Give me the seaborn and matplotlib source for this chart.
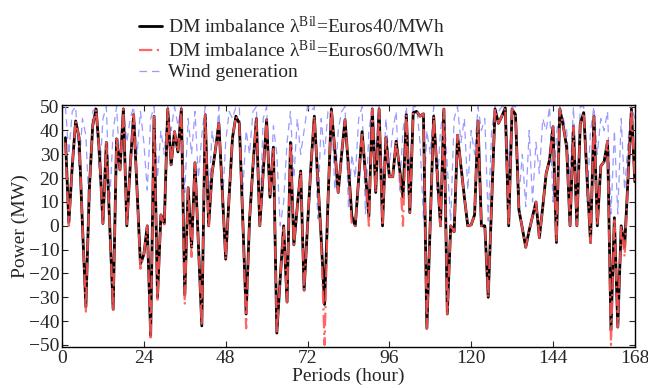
import numpy as np
import pandas as pd
import matplotlib
matplotlib.use("Agg")
import matplotlib.pyplot as plt
import seaborn as sns

hours = list(range(1, 169))

dm40 = [37, 1.3, 25, 44, 37, 0, -34, 15, 42, 49,
        30, 1, 35, 0, -35, 36.5, 23.5, 49, 0, 25,
        46.6, 15, -16, -12, 0, -46, 46, -30, 4.6, 1,
        49, 25.6, 39.5, 31, 49, -29, 16, -9, 26.5, -8,
        -42, 46.6, 0, 22, 32, 43, 15, -14, 12, 37,
        46, 43, 3, -37, 2.5, 25, 45, 0, 22, 44.5,
        12, 33, -45, -22, 0, -32, 35, -8, 8, 23,
        -27, 0, 25, 46, 20, -5, -33, 10, 49, 32,
        14, 30, 44.5, 25, 4, 0, 20, 39.5, 22, 4,
        49, 14, 49, 0, 37, 20.6, 20.6, 35.5, 24, 12,
        46.6, 5.5, 47.5, 48, 46, 47, -43, 2, 46, 23,
        0, 49, -37, 0, -2.5, 38, 25, 12, 0, 0.4,
        4.6, 44, 0, 0, -30, 10, 49, 43, 46, 49.5,
        0, 49, 46.6, 6.7, -1, -9, -2, 4, 10, -5,
        8, 22, 27.7, 41.6, -7, 49, 42, 33, 0, 41.6,
        0, 43, 47.5, 20, -7, 46, 0, 25, 27, 35.5,
        -43.7, 3.4, -42.5, 0, -9, 20, 49, 18.5]

dm60 = [35, 0, 25, 44, 37, 0, -36, 15, 42, 49,
        30, 0, 35, 0, -36, 36.5, 23.5, 49, 0, 25,
        46.6, 15, -18, -12, 0, -48, 46, -32, 4.6, 0,
        49, 25.6, 39.5, 31, 49, -33, 16, -13, 26.5, -8,
        -42, 46.6, 0, 22, 32, 43, 15, -14, 12, 37,
        46, 43, 3, -43, 2.5, 25, 45, 0, 22, 44.5,
        12, 33, -45, -22, 0, -32, 35, -8, 8, 23,
        -27, 0, 25, 46, 20, -5, -50, 10, 49, 32,
        14, 30, 44.5, 25, 0, 0, 20, 39.5, 22, 0,
        49, 14, 49, 0, 37, 20.6, 20.6, 35.5, 24, 0,
        46.6, 5.5, 47.5, 48, 46, 47, -43, 2, 46, 23,
        0, 49, -37, 0, -2.5, 38, 25, 12, 0, 0.4,
        4.6, 44, 0, 0, -30, 10, 49, 43, 46, 49.5,
        0, 49, 46.6, 6.7, -1, -9, -2, 4, 10, -5,
        8, 22, 27.7, 41.6, -7, 49, 42, 33, 0, 41.6,
        0, 43, 47.5, 20, -7, 46, 0, 25, 27, 35.5,
        -50, 3.4, -42.5, 0, -13, 20, 49, 18.5]

wind = [50, 30, 48, 50, 25, 45, 38, 5, 48, 50,
        20, 45, 50, 10, 40, 50, 25, 50, 35, 45,
        50, 30, 48, 35, 15, 45, 50, 20, 40, 30,
        50, 40, 50, 42, 50, 14, 45, 30, 48, 20,
        38, 50, 8, 40, 30, 50, 8, 35, 48, 45,
        50, 50, 14, 40, 30, 48, 50, 1, 45, 50,
        12, 42, 30, 0, 10, 35, 48, 20, 45, 30,
        40, 50, 48, 50, 3, 45, 30, 48, 50, 15,
        40, 48, 50, 8, 30, 20, 45, 50, 5, 40,
        50, 30, 50, 15, 45, 25, 40, 48, 15, 40,
        50, 20, 50, 50, 35, 3, 40, 30, 50, 15,
        40, 50, 25, 2, 45, 50, 35, 45, 15, 40,
        30, 50, 40, 45, 2, 40, 50, 48, 50, 50,
        25, 50, 50, 12, 30, 8, 40, 10, 35, 22,
        45, 40, 50, 10, 38, 50, 45, 40, 20, 50,
        12, 50, 50, 10, 40, 50, 30, 45, 40, 48,
        5, 40, 5, 45, 15, 35, 50, 45]

labels = [r"DM imbalance λ$^{\mathrm{Bil}}$=Euros40/MWh",
          r"DM imbalance λ$^{\mathrm{Bil}}$=Euros60/MWh",
          "Wind generation"]
xticks = [0, 24, 48, 72, 96, 120, 144, 168]
yticks = list(range(-50, 51, 10))

sns.set_style("ticks")
plt.rcParams["font.family"] = ["Liberation Serif", "DejaVu Serif"]
plt.rcParams["mathtext.fontset"] = "custom"
plt.rcParams["mathtext.rm"] = "Liberation Serif"
plt.rcParams["mathtext.it"] = "Liberation Serif:italic"

fig = plt.figure(figsize=(6.48, 3.88), dpi=100)
ax = fig.add_axes([0.0957, 0.106, 0.884, 0.624])

df = pd.DataFrame({"h": hours, "dm40": dm40, "dm60": dm60, "wind": wind})

sns.lineplot(data=df, x="h", y="dm40", ax=ax, color="black", lw=2.0,
             label=labels[0], zorder=2)
sns.lineplot(data=df, x="h", y="dm60", ax=ax, color="#ff5555", lw=1.6,
             linestyle=(0, (6, 2, 1, 2)), label=labels[1], zorder=3, alpha=0.9)
sns.lineplot(data=df, x="h", y="wind", ax=ax, color="#9a9aff", lw=0.9,
             linestyle=(0, (6, 4)), label=labels[2], zorder=1)

ax.set_xlim(0, 168)
ax.set_ylim(-50.8, 50.8)
ax.set_xticks(xticks)
ax.set_yticks(yticks)
ax.tick_params(direction="in", top=True, right=True, labelsize=14,
               length=4, width=0.8, pad=2)
for s in ax.spines.values():
    s.set_linewidth(1.0)
    s.set_color("black")
ax.set_xlabel("Periods (hour)", fontsize=14, labelpad=1)
ax.set_ylabel("Power (MW)", fontsize=14, labelpad=0)

handles, labs = ax.get_legend_handles_labels()
ax.get_legend().remove()
fig.legend(handles, labs, loc="upper left", bbox_to_anchor=(0.215, 0.96),
           frameon=False, fontsize=14, handlelength=1.15, handletextpad=0.3,
           labelspacing=0.15, borderaxespad=0, borderpad=0)

fig.savefig("out.png", dpi=100)
